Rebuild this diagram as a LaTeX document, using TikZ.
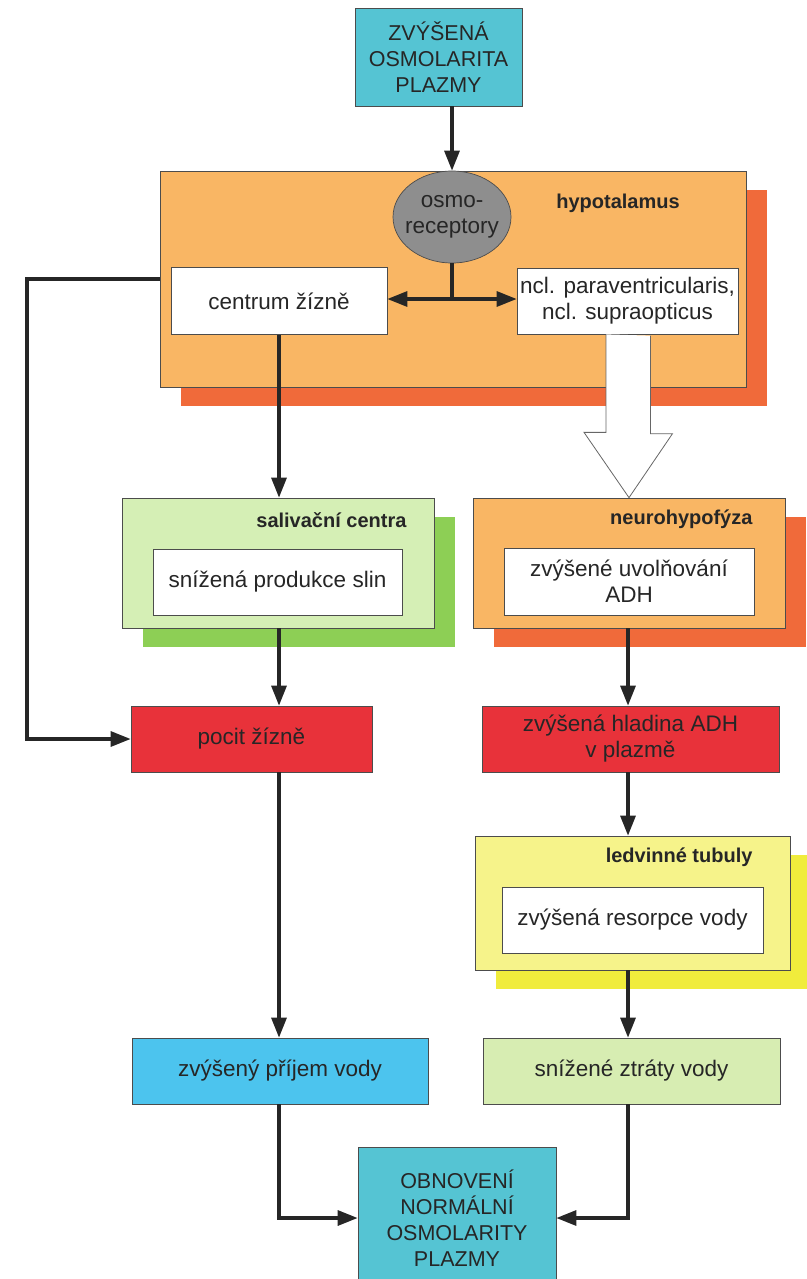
\documentclass[tikz,border=0pt]{standalone}
\usepackage{fontspec}
\setmainfont{Liberation Sans}
\usetikzlibrary{arrows.meta,shapes.geometric,shadows}

\definecolor{topcyan}{HTML}{55C4D3}
\definecolor{hypoorange}{HTML}{F9B664}
\definecolor{hyposhadow}{HTML}{F06A3A}
\definecolor{osmogray}{HTML}{8E8E8E}
\definecolor{salivgreen}{HTML}{D5EFB5}
\definecolor{salivshadow}{HTML}{8DCF55}
\definecolor{thirstred}{HTML}{E8323A}
\definecolor{tubyellow}{HTML}{F6F38A}
\definecolor{tubshadow}{HTML}{F0EC3C}
\definecolor{intakeblue}{HTML}{4CC4EE}
\definecolor{lossgreen}{HTML}{D7EDB2}

\begin{document}
\begin{tikzpicture}[x=1pt,y=-1pt,
    >={Triangle[length=20pt,width=15pt]},
    txt/.style={font=\fontsize{22.5}{26}\selectfont,text=black!85,align=center},
    caps/.style={font=\fontsize{21.5}{26}\selectfont},
    box/.style={txt,draw=black!70,line width=0.7pt,rectangle,inner sep=0pt},
    title/.style={font=\fontsize{20}{24}\selectfont\bfseries,text=black!85},
    shadowed/.style={drop shadow={shadow xshift=21pt,shadow yshift=-19pt,fill=#1,opacity=1}},
    line/.style={line width=3.2pt,black!85},
    arr/.style={line,->},
    hollow/.style={draw=black!60,line width=0.8pt,fill=white,line join=miter}]
\useasboundingbox (0,0) rectangle (806,1279);

\node[box,caps,fill=topcyan,minimum width=167,minimum height=98] (top) at (438.5,57) {ZVÝŠENÁ\\OSMOLARITA\\PLAZMY};

% hypotalamus
\node[box,fill=hypoorange,shadowed=hyposhadow,minimum width=586,minimum height=216] (hypo) at (453,279) {};
\node[title] (hypotitle) at (618,203) {hypotalamus};
\node[txt,ellipse,draw=black!70,line width=0.7pt,fill=osmogray,minimum width=118,minimum height=92,inner xsep=-8pt,inner ysep=0pt] (osmo) at (452,217) {osmo-\\receptory};
\node[box,fill=white,minimum width=216,minimum height=67] (centrum) at (279,301) {centrum žízně};
\node[box,fill=white,minimum width=221,minimum height=66] (ncl) at (627.5,301) {ncl. paraventricularis,\\ncl. supraopticus};

% second row
\node[box,fill=salivgreen,shadowed=salivshadow,minimum width=312,minimum height=130] (saliv) at (278,563) {};
\node[title,anchor=east] (salivtitle) at (410,520) {salivační centra};
\node[box,fill=white,minimum width=249,minimum height=66] (sliny) at (277.5,582) {snížená produkce slin};

\node[box,fill=hypoorange,shadowed=hyposhadow,minimum width=312,minimum height=130] (neuro) at (629,563) {};
\node[title,anchor=east] (neurotitle) at (756,519) {neurohypofýza};
\node[box,fill=white,minimum width=250,minimum height=67] (uvol) at (629,581.5) {zvýšené uvolňování\\ADH};

% red boxes
\node[box,fill=thirstred,minimum width=241,minimum height=66] (pocit) at (251.5,739) {pocit žízně};
\node[box,fill=thirstred,minimum width=297,minimum height=66] (hladina) at (630.5,739) {zvýšená hladina ADH\\v plazmě};

\node[box,fill=tubyellow,shadowed=tubshadow,minimum width=315,minimum height=134] (tubuly) at (632.5,903) {};
\node[title,anchor=east] (tubtitle) at (756,857) {ledvinné tubuly};
\node[box,fill=white,minimum width=261,minimum height=66] (resorpce) at (632.5,920) {zvýšená resorpce vody};

\node[box,fill=intakeblue,minimum width=296,minimum height=66] (prijem) at (280,1071) {zvýšený příjem vody};
\node[box,fill=lossgreen,minimum width=297,minimum height=66] (ztraty) at (631.5,1071) {snížené ztráty vody};
\node[box,caps,fill=topcyan,minimum width=198,minimum height=142] (obnov) at (457,1218) {OBNOVENÍ\\NORMÁLNÍ\\OSMOLARITY\\PLAZMY};

\coordinate (colL) at (279,0);
\coordinate (colR) at (628,0);
\coordinate (fb) at (27,279);

\draw[arr] (top.south -| osmo.north) -- (osmo.north);
\draw[line] (osmo.south) -- ([yshift=2pt]osmo.south |- centrum.east);
\draw[line,<->] ([yshift=2pt]centrum.east) -- ([yshift=2pt]ncl.west);
\draw[arr] (hypo.west) -- (fb) |- (pocit.west);
\draw[arr] (centrum.south -| colL) -- (saliv.north -| colL);
\draw[hollow] (ncl.south) ++(-21.5,0) -- ++(0,98) -- ++(-22,0) -- (neuro.north) -- ++(43.5,-64) -- ++(-22,0) -- ++(0,-98);
\draw[arr] (saliv.south -| colL) -- (pocit.north -| colL);
\draw[arr] (neuro.south -| colR) -- (hladina.north -| colR);
\draw[arr] (hladina.south -| colR) -- (tubuly.north -| colR);
\draw[arr] (pocit.south -| colL) -- (prijem.north -| colL);
\draw[arr] (tubuly.south -| colR) -- (ztraty.north -| colR);
\draw[arr] (prijem.south -| colL) |- (obnov.west);
\draw[arr] (ztraty.south -| colR) |- (obnov.east);
\end{tikzpicture}
\end{document}
